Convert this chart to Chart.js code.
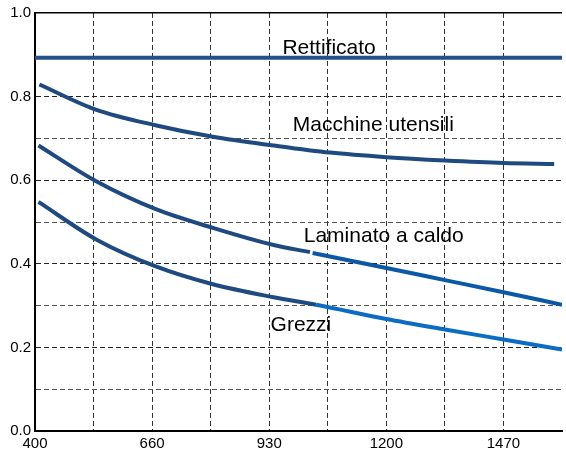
<!DOCTYPE html>
<html>
<head>
<meta charset="utf-8">
<script src="https://cdn.jsdelivr.net/npm/chart.js@4/dist/chart.umd.min.js"></script>
<style>
  body { margin: 0; background: #fff; }
</style>
</head>
<body>
<canvas id="myChart" width="566" height="454"></canvas>
<script>
// x ticks (gridlines) and the labels shown under them
var xTicks = [400, 535, 670, 805, 940, 1075, 1210, 1345, 1480, 1615];
var xTickLabels = ["400", "", "660", "", "930", "", "1200", "", "1470", ""];
var yTickLabels = ["0.0", "", "0.2", "", "0.4", "", "0.6", "", "0.8", "", "1.0"];

// series
var rettX = [400, 1615];
var rettY = [0.893, 0.893];

var maccX = [410, 540, 680, 810, 950, 1080, 1210, 1345, 1480, 1597];
var maccY = [0.829, 0.769, 0.731, 0.704, 0.683, 0.666, 0.655, 0.647, 0.641, 0.639];

var lamX = [408, 540, 680, 810, 950, 1034, 1037, 1040, 1210, 1345, 1480, 1615];
var lamY = [0.683, 0.598, 0.530, 0.486, 0.445, 0.428, null, 0.426, 0.390, 0.361, 0.332, 0.302];
var lamSplit = 1040;

var grezX = [408, 540, 680, 810, 950, 1048, 1210, 1345, 1480, 1615];
var grezY = [0.548, 0.459, 0.393, 0.351, 0.320, 0.302, 0.268, 0.243, 0.219, 0.195];
var grezSplit = 1048;

// curve names written on the plot, placed in data units
var labelText = ["Rettificato", "Macchine utensili", "Laminato a caldo", "Grezzi"];
var labelX = [1078, 1180, 1204, 1013];
var labelY = [0.902, 0.717, 0.451, 0.239];

function pts(xs, ys) {
  return xs.map(function (x, i) { return { x: x, y: ys[i] }; });
}

var dark = "#1f4a80";

var curveLabels = {
  id: "curveLabels",
  afterDatasetsDraw: function (chart) {
    var c = chart.ctx;
    var xs = chart.scales.x, ys = chart.scales.y;
    c.save();
    c.font = "21px 'Liberation Sans', Arial, sans-serif";
    c.fillStyle = "#000";
    c.textAlign = "center";
    c.textBaseline = "alphabetic";
    for (var i = 0; i < labelText.length; i++) {
      c.fillText(labelText[i], xs.getPixelForValue(labelX[i]), ys.getPixelForValue(labelY[i]));
    }
    c.restore();
  }
};

var ctx = document.getElementById("myChart").getContext("2d");
var myChart = new Chart(ctx, {
  type: "line",
  data: {
    datasets: [
      { label: "Rettificato", data: pts(rettX, rettY), borderColor: "#24518d" },
      { label: "Macchine utensili", data: pts(maccX, maccY), borderColor: dark },
      {
        label: "Laminato a caldo", data: pts(lamX, lamY), borderColor: dark,
        segment: { borderColor: function (s) { return s.p0.parsed.x >= lamSplit ? "#0b58a6" : dark; } }
      },
      {
        label: "Grezzi", data: pts(grezX, grezY), borderColor: dark,
        segment: { borderColor: function (s) { return s.p0.parsed.x >= grezSplit ? "#0b6cc4" : dark; } }
      }
    ]
  },
  options: {
    responsive: false,
    devicePixelRatio: 1,
    animation: false,
    layout: { padding: { top: 11, left: 0, right: 0, bottom: 0 } },
    elements: {
      line: { borderWidth: 4, cubicInterpolationMode: "monotone", borderCapStyle: "butt", fill: false },
      point: { radius: 0, hoverRadius: 0 }
    },
    spanGaps: false,
    plugins: { legend: { display: false }, tooltip: { enabled: false } },
    scales: {
      x: {
        type: "linear",
        min: 400,
        max: 1615,
        afterBuildTicks: function (scale) {
          scale.ticks = xTicks.map(function (v) { return { value: v }; });
        },
        afterFit: function (scale) { scale.height = 23; },
        ticks: {
          autoSkip: false,
          maxRotation: 0,
          padding: 4,
          color: "#000",
          font: { family: "'Liberation Sans', Arial, sans-serif", size: 15 },
          callback: function (v, i) { return xTickLabels[i]; }
        },
        grid: {
          drawTicks: false,
          color: function (c) { return c.index === xTicks.length - 1 ? "rgba(0,0,0,0)" : "#333"; },
          lineWidth: 1
        },
        border: { display: true, color: "#000", width: 2, dash: [5, 3] }
      },
      y: {
        min: 0,
        max: 1,
        afterBuildTicks: function (scale) {
          scale.ticks = yTickLabels.map(function (l, i) { return { value: i / 10 }; });
        },
        afterFit: function (scale) { scale.width = 35; },
        ticks: {
          padding: 4,
          color: "#000",
          font: { family: "'Liberation Sans', Arial, sans-serif", size: 15 },
          callback: function (v, i) { return yTickLabels[i]; }
        },
        grid: {
          drawTicks: false,
          color: function (c) {
            if (c.index === 10) return "#000";
            if (c.index === 9) return "rgba(0,0,0,0)";
            return c.index % 2 === 0 ? "#222" : "#555";
          },
          lineWidth: function (c) { return c.index === 10 ? 1.5 : 1; }
        },
        border: {
          display: true, color: "#000", width: 2,
          dash: function (c) { return c.index === 10 ? [] : [5, 3]; }
        }
      }
    }
  },
  plugins: [curveLabels]
});
</script>
</body>
</html>
